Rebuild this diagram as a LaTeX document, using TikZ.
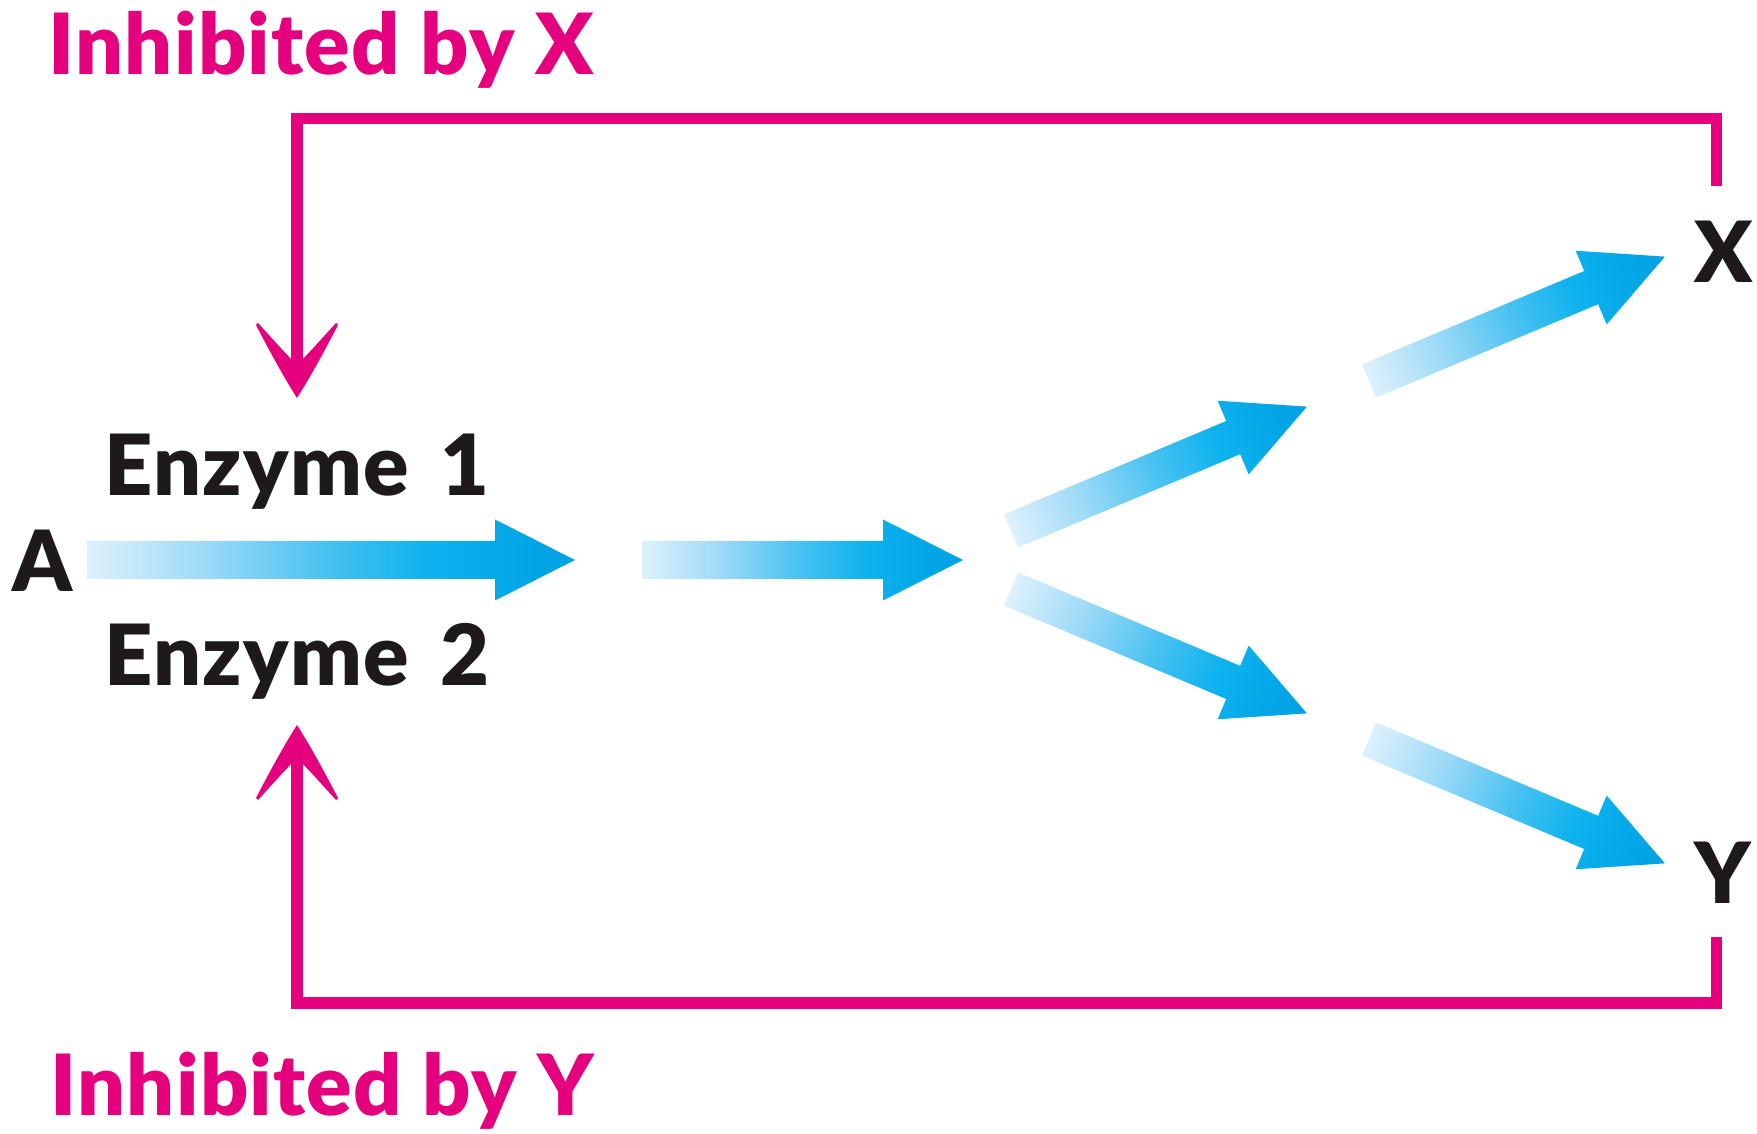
\documentclass[tikz,border=0pt]{standalone}
\usepackage{fontspec}
\setmainfont{Lato}[BoldFont={* Black}, BoldFeatures={LetterSpace=1.5}]
\definecolor{inhpink}{HTML}{E5007E}
\definecolor{txtblack}{HTML}{1E1A1B}
\definecolor{bla}{HTML}{DDF1FC}
\definecolor{blb}{HTML}{9DDAF7}
\definecolor{blc}{HTML}{45C1F1}
\definecolor{bld}{HTML}{0DB2EE}
\definecolor{ble}{HTML}{00A3E4}
\pgfdeclarehorizontalshading{flowshade}{100bp}{color(0bp)=(bla); color(25bp)=(bla); color(37bp)=(blb); color(50bp)=(blc); color(60bp)=(bld); color(72bp)=(ble); color(100bp)=(ble)}
\newcommand{\flowarrow}[5]{%
  \begin{scope}[transform canvas={shift={(#1)},rotate=#2}]
    \shade[shading=flowshade] (0,-#4) -- (#3-80,-#4) -- (#3-80,-#5) -- (#3,0) -- (#3-80,#5) -- (#3-80,#4) -- (0,#4) -- cycle;
  \end{scope}}
\newcommand{\barbhead}{%
  \fill[inhpink] (0,0) .. controls (-14,-22) and (-28,-48) .. (-41,-73) -- (-39,-75)
    .. controls (-28,-63) and (-14,-47) .. (0,-33)
    .. controls (14,-47) and (28,-63) .. (39,-75) -- (41,-73)
    .. controls (28,-48) and (14,-22) .. (0,0) -- cycle;}
\tikzset{
  lab/.style={font=\fontsize{24pt}{28pt}\selectfont\bfseries, inner sep=0pt, anchor=base west},
  inhline/.style={draw=inhpink, line width=0.11cm, miter limit=10}
}
\begin{document}
\begin{tikzpicture}[x=0.01cm,y=-0.01cm]
\useasboundingbox[fill=white] (0,0) rectangle (1757,1134);
% labels
\node[lab, text=inhpink] (inhX) at (48,75) {Inhibited by X};
\node[lab, text=inhpink] (inhY) at (50,1115) {Inhibited by Y};
\node[lab, text=txtblack] (A) at (12,592) {A};
\node[lab, text=txtblack] (E1) at (104,496) {Enzyme\hspace{3pt} 1};
\node[lab, text=txtblack] (E2) at (104,686) {Enzyme\hspace{3pt} 2};
\node[lab, text=txtblack] (X) at (1694,283) {X};
\node[lab, text=txtblack] (Y) at (1694,903) {Y};
% coordinates
\coordinate (h1) at (87,560);
\coordinate (h2) at (642,560);
\coordinate (u1) at (1011,531);
\coordinate (l1) at (1011,589);
\coordinate (u2) at (1369,381);
\coordinate (l2) at (1369,739);
\coordinate (xend) at (1716.5,186);
\coordinate (xcorner) at (1716.5,118.5);
\coordinate (lcornerT) at (297,118.5);
\coordinate (tipT) at (297,398);
\coordinate (yend) at (1716.5,937);
\coordinate (ycorner) at (1716.5,1003);
\coordinate (lcornerB) at (297,1003);
\coordinate (tipB) at (297,725);
% blue flow arrows
\flowarrow{h1}{0}{488}{19}{40.5}
\flowarrow{h2}{0}{321}{19}{40.5}
\flowarrow{u1}{22.8}{321}{18}{40}
\flowarrow{l1}{-22.8}{321}{18}{40}
\flowarrow{u2}{22.8}{321}{18}{40}
\flowarrow{l2}{-22.8}{321}{18}{40}
% inhibition lines
\draw[inhline] (xend) -- (xcorner) -- (lcornerT) -- ([yshift=0.25cm]tipT);
\draw[inhline] (yend) -- (ycorner) -- (lcornerB) -- ([yshift=-0.25cm]tipB);
\begin{scope}[shift={(tipT)}] \barbhead \end{scope}
\begin{scope}[shift={(tipB)}, yscale=-1] \barbhead \end{scope}
\end{tikzpicture}
\end{document}
